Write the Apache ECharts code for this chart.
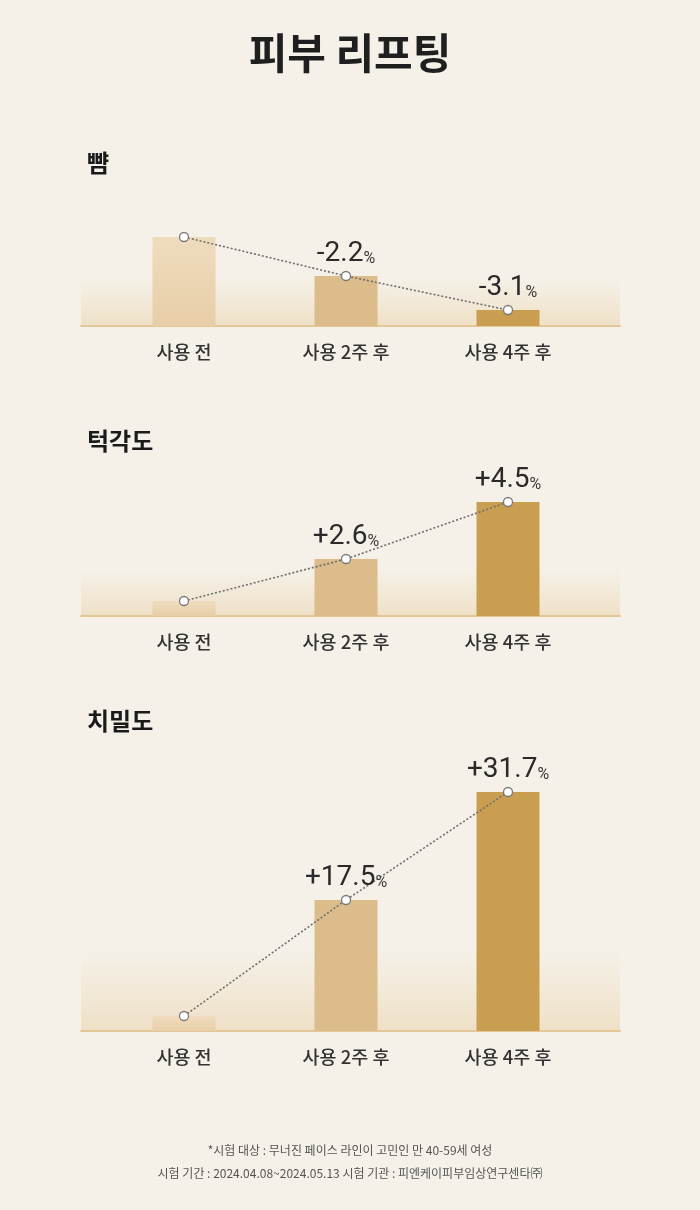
<!DOCTYPE html>
<html>
<head>
<meta charset="utf-8">
<script src="https://cdn.jsdelivr.net/npm/echarts@6/dist/echarts.min.js"></script>
<style>
html,body{margin:0;padding:0;background:#f5f1e8;}
#c{width:700px;height:1210px;}
</style>
</head>
<body>
<div id="c"></div>
<script>
// ---- data ----
const mainTitle = '피부 리프팅';
const categories = ['사용 전', '사용 2주 후', '사용 4주 후'];
const sectionTitles = ['뺨', '턱각도', '치밀도'];
const cheekValues = [89, 50, 16];
const cheekLabels = ['', '-2.2', '-3.1'];
const jawValues = [15, 57, 114];
const jawLabels = ['', '+2.6', '+4.5'];
const densityValues = [15, 131, 239];
const densityLabels = ['', '+17.5', '+31.7'];
const footnotes = [
  '*시험 대상 : 무너진 페이스 라인이 고민인 만 40-59세 여성',
  '시험 기간 : 2024.04.08~2024.05.13 시험 기관 : 피엔케이피부임상연구센타㈜'
];

// ---- layout / style ----
const KR = '"Noto Sans CJK KR", "Noto Sans", sans-serif';
const NUM = 'Roboto, "Noto Sans", sans-serif';
const seriesValues = [cheekValues, jawValues, densityValues];
const seriesLabels = [cheekLabels, jawLabels, densityLabels];
const baselines = [326, 616, 1031];
const yMaxes = [140, 140, 270];
const bandHeights = [48, 48, 82];
const sectionTops = [146, 424, 704];
const barColors = [
  {type:'linear',x:0,y:0,x2:0,y2:1,colorStops:[{offset:0,color:'#efdcbe'},{offset:1,color:'#e8cea8'}]},
  '#dcbc8a',
  '#c99e50'
];

const chart = echarts.init(document.getElementById('c'), null, {renderer:'canvas'});

const grid = [], xAxis = [], yAxis = [], series = [];
for (let i = 0; i < 3; i++) {
  const b = baselines[i];
  // band grid (background gradient + baseline)
  grid.push({
    left: 81, width: 539, top: b - bandHeights[i], height: bandHeights[i],
    show: true, borderWidth: 0,
    backgroundColor: {type:'linear',x:0,y:0,x2:0,y2:1,colorStops:[
      {offset:0,color:'rgba(239,226,202,0)'},{offset:1,color:'rgba(239,224,198,1)'}]}
  });
  xAxis.push({
    type:'category', gridIndex: grid.length-1, data:[''],
    axisLine:{show:true, lineStyle:{color:'#e3c797', width:2}},
    axisTick:{show:false}, axisLabel:{show:false}
  });
  yAxis.push({type:'value', gridIndex: grid.length-1, show:false, min:0, max:1, splitLine:{show:false}});

  // bar grid
  grid.push({left: 103, width: 486, top: b - yMaxes[i], height: yMaxes[i]});
  const gi = grid.length-1;
  xAxis.push({
    type:'category', gridIndex: gi, data: categories, boundaryGap: true,
    axisLine:{show:false}, axisTick:{show:false},
    axisLabel:{show:true, margin:17, fontSize:18.5, fontWeight:500, color:'#333', fontFamily:KR}
  });
  yAxis.push({type:'value', gridIndex: gi, show:false, min:0, max:yMaxes[i], splitLine:{show:false}});

  const vals = seriesValues[i];
  const labs = seriesLabels[i];
  series.push({
    type:'bar', xAxisIndex: gi, yAxisIndex: gi, barWidth: 63,
    data: vals.map((v, k) => ({value: v, itemStyle:{color: barColors[k]}})),
    z: 2, silent: true
  });
  series.push({
    type:'line', xAxisIndex: gi, yAxisIndex: gi,
    data: vals,
    symbol:'circle', symbolSize: 9,
    itemStyle:{color:'#ffffff', borderColor:'#7a7a7a', borderWidth:1.3},
    lineStyle:{color:'#6e6e6e', width:1.6, type:[2,2]},
    z: 5, silent: true,
    label:{
      show:true, position:'top', distance: 3,
      formatter: (p) => labs[p.dataIndex] ? '{n|' + labs[p.dataIndex] + '}{p|%}' : '',
      rich:{
        n:{fontSize:28, fontFamily:NUM, color:'#2a2a2a', lineHeight:30, verticalAlign:'bottom'},
        p:{fontSize:16, fontFamily:NUM, color:'#3a3a3a', lineHeight:30, verticalAlign:'bottom', padding:[0,0,1,0]}
      }
    }
  });
}

const titles = [{
  text: mainTitle, left:'center', top: 27,
  textStyle:{fontSize:42, fontWeight:'bold', color:'#1f1f1f', fontFamily:KR}
}];
for (let i = 0; i < 3; i++) {
  titles.push({
    text: sectionTitles[i], left: 82, top: sectionTops[i],
    textStyle:{fontSize:24, fontWeight:'bold', color:'#1a1a1a', fontFamily:KR}
  });
}
titles.push({
  text: footnotes[0], left:'center', top: 1139,
  textStyle:{fontSize:12, fontWeight:'normal', color:'#555', fontFamily:KR}
});
titles.push({
  text: footnotes[1], left:'center', top: 1162,
  textStyle:{fontSize:12, fontWeight:'normal', color:'#555', fontFamily:KR}
});

chart.setOption({
  backgroundColor:'#f5f1e8',
  animation:false,
  title: titles,
  grid, xAxis, yAxis, series
});
</script>
</body>
</html>
